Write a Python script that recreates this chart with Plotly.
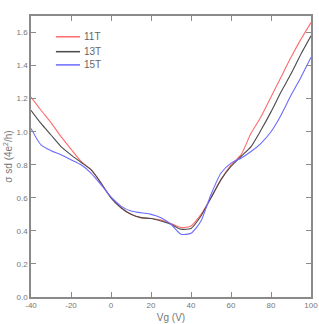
import plotly.graph_objects as go

vg = [-40, -35, -30, -25, -20, -15, -10, -5, 0, 5, 10, 15, 20, 25, 30, 35, 40,
      45, 50, 55, 60, 65, 70, 75, 80, 85, 90, 95, 100]

sigma_11T = [1.21, 1.13, 1.055, 0.97, 0.895, 0.82, 0.77, 0.69, 0.60, 0.54, 0.50,
             0.48, 0.475, 0.465, 0.445, 0.42, 0.43, 0.50, 0.60, 0.71, 0.80, 0.86,
             0.99, 1.09, 1.21, 1.33, 1.45, 1.56, 1.66]
sigma_13T = [1.13, 1.05, 0.98, 0.91, 0.86, 0.815, 0.77, 0.69, 0.60, 0.54, 0.50,
             0.48, 0.475, 0.46, 0.44, 0.41, 0.415, 0.49, 0.60, 0.71, 0.79, 0.85,
             0.91, 1.01, 1.12, 1.24, 1.35, 1.47, 1.58]
sigma_15T = [1.02, 0.92, 0.885, 0.86, 0.83, 0.80, 0.75, 0.68, 0.605, 0.55, 0.52,
             0.51, 0.50, 0.48, 0.44, 0.38, 0.385, 0.46, 0.62, 0.75, 0.81, 0.84,
             0.88, 0.93, 1.00, 1.10, 1.22, 1.33, 1.45]

names = ["11T", "13T", "15T"]
colors = ["#ff6b6b", "#4a4a4a", "#6b6bff"]
values = [sigma_11T, sigma_13T, sigma_15T]

x_ticks = [-40, -20, 0, 20, 40, 60, 80, 100]
y_ticks = [0.0, 0.2, 0.4, 0.6, 0.8, 1.0, 1.2, 1.4, 1.6]

fig = go.Figure()
for name, ys, col in zip(names, values, colors):
    fig.add_trace(go.Scatter(x=vg, y=ys, mode="lines", name=name, showlegend=False,
                             line=dict(color=col, width=1.1, shape="spline", smoothing=0.6)))

# custom compact legend (decoration in paper coordinates)
leg_rows = [0.926, 0.873, 0.826]
for name, col, yy in zip(names, colors, leg_rows):
    fig.add_shape(type="line", xref="paper", yref="paper",
                  x0=0.089, x1=0.175, y0=yy, y1=yy,
                  line=dict(color=col, width=1.5))
    fig.add_annotation(xref="paper", yref="paper", x=0.183, y=yy, text=name,
                       showarrow=False, xanchor="left", yanchor="middle",
                       font=dict(family="Liberation Sans", size=10, color="#666666"))

axis_common = dict(showline=True, linecolor="#8a8a8a", linewidth=1.5, mirror="ticks",
                   ticks="inside", ticklen=5, tickcolor="#8a8a8a", tickwidth=1,
                   showgrid=False, zeroline=False, automargin=False,
                   tickfont=dict(family="Liberation Sans", size=8, color="#777777"))

fig.update_xaxes(range=[-40, 100], tickvals=x_ticks,
                 ticktext=[str(v) for v in x_ticks],
                 title=dict(text="Vg (V)", standoff=5,
                            font=dict(family="Liberation Sans", size=10, color="#777777")),
                 **axis_common)
fig.update_yaxes(range=[0, 1.70], tickvals=y_ticks,
                 ticktext=[f"{v:.1f}" for v in y_ticks],
                 title=dict(text="σ sd (4e<sup>2</sup>/h)", standoff=2,
                            font=dict(family="Liberation Sans", size=10, color="#777777")),
                 **axis_common)

fig.update_layout(
    width=319, height=324,
    margin=dict(l=31, r=8, t=16, b=27),
    plot_bgcolor="white", paper_bgcolor="white",
    showlegend=False,
)

fig.write_html("out.html")
